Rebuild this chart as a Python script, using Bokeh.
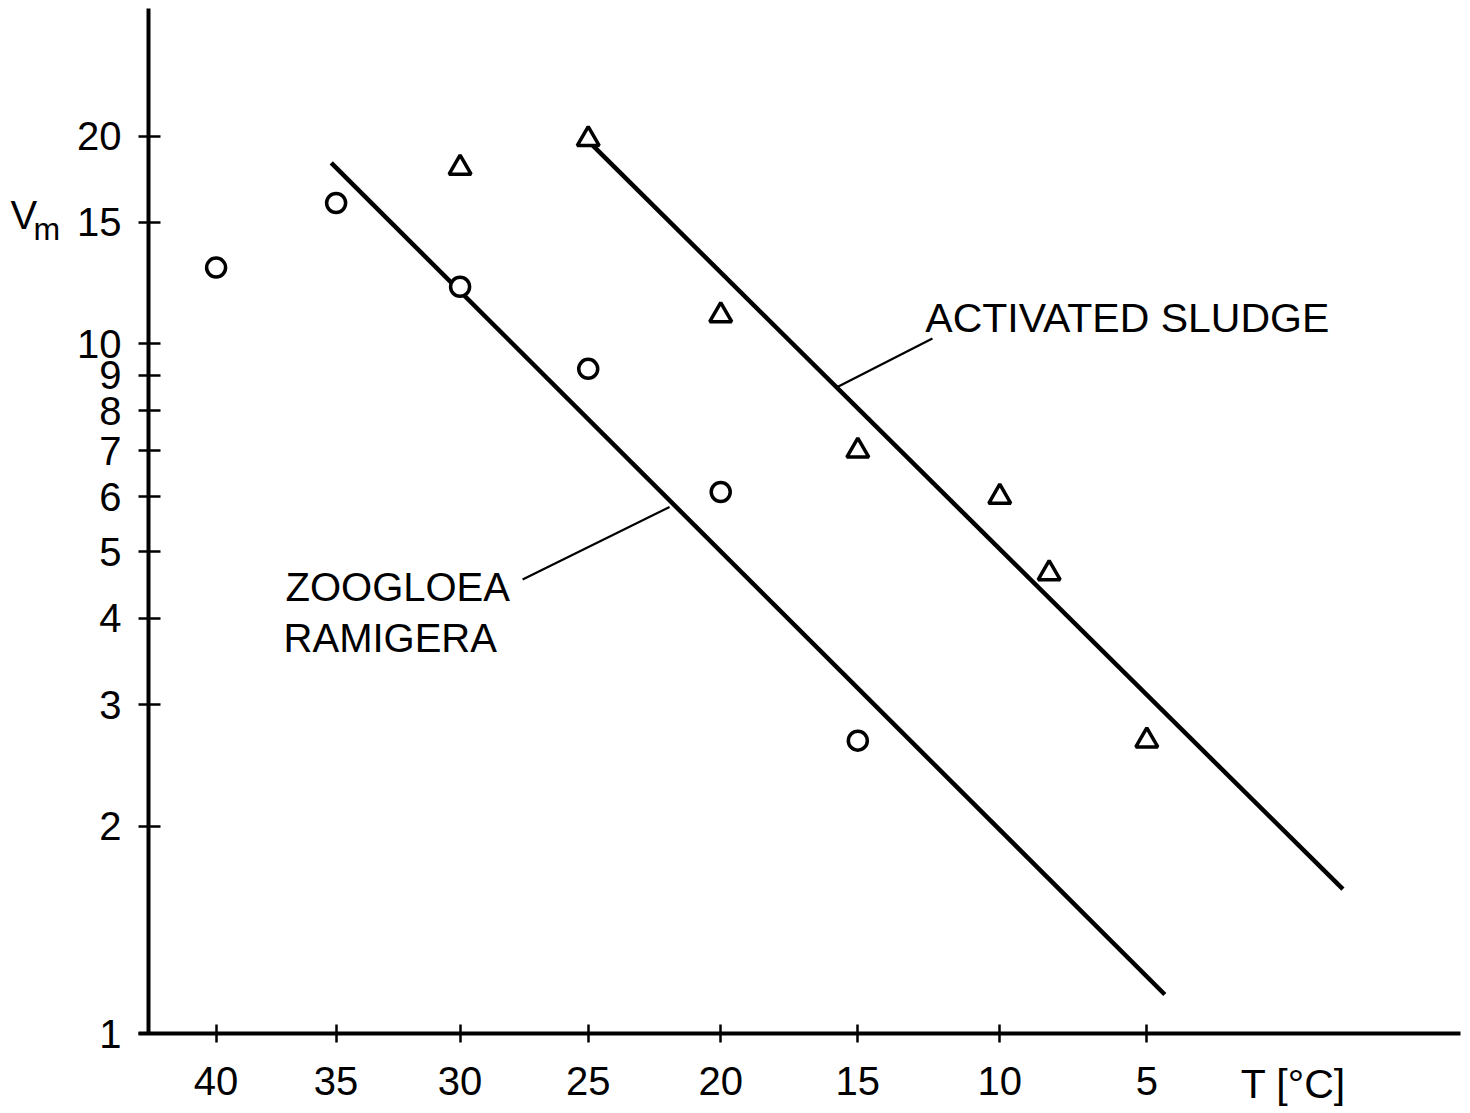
import numpy as np
from bokeh.plotting import figure
from bokeh.models import (Range1d, FixedTicker, CustomJSTickFormatter, Label,
                          ColumnDataSource, LinearAxis, LogAxis)
from bokeh.embed import file_html
from bokeh.resources import INLINE

# ---------------- data ----------------
T_ticks = [40, 35, 30, 25, 20, 15, 10, 5]          # degC, axis is 1/T (Arrhenius)
V_ticks = [1, 2, 3, 4, 5, 6, 7, 8, 9, 10, 15, 20]

zoogloea_T = [40, 35, 30, 25, 20, 15]
zoogloea_V = [12.9, 16.0, 12.1, 9.2, 6.1, 2.66]

sludge_T = [30, 25, 20, 15, 10, 8.3, 5]
sludge_V = [18.0, 19.8, 11.0, 7.0, 6.0, 4.65, 2.66]

zoogloea_fit_T = [35.2, 4.4]
zoogloea_fit_V = [18.3, 1.14]
sludge_fit_T = [25.1, -1.4]
sludge_fit_V = [19.85, 1.62]


def inv_T(t):
    return 1000.0 / (np.asarray(t, dtype=float) + 273.15)


# visible window (frame covers whole canvas; axes are placed inside it)
U_LEFT, U_RIGHT = 3.10027, 3.73278
V_BOTTOM, V_TOP = 0.774, 31.46
AXIS_T = 42.89            # temperature at which the V axis stands
X_AXIS_BOUNDS = (3.15986, 3.73062)
Y_AXIS_BOUNDS = (1.0, 30.6)

FONT = "Liberation Sans"

p = figure(
    width=1465, height=1110,
    x_range=Range1d(U_LEFT, U_RIGHT),
    y_range=Range1d(V_BOTTOM, V_TOP),
    y_axis_type="log",
    x_axis_location=None, y_axis_location=None,
    output_backend="svg", toolbar_location=None,
    min_border_left=0, min_border_right=0, min_border_top=0, min_border_bottom=0,
)
p.outline_line_color = None
p.xgrid.visible = False
p.ygrid.visible = False
p.background_fill_color = "white"
p.border_fill_color = "white"

# ---- axes (library axes, fixed inside the frame) ----
xa = LinearAxis(fixed_location=1.0, bounds=X_AXIS_BOUNDS)
xa.ticker = FixedTicker(ticks=[float(v) for v in inv_T(T_ticks)], minor_ticks=[])
xa.formatter = CustomJSTickFormatter(code="return String(Math.round(1000/tick - 273.15));")
ya = LogAxis(fixed_location=float(inv_T(AXIS_T)), bounds=Y_AXIS_BOUNDS)
ya.ticker = FixedTicker(ticks=V_ticks, minor_ticks=[])
ya.formatter = CustomJSTickFormatter(code="return String(Math.round(tick));")

for ax in (xa, ya):
    ax.axis_line_width = 4
    ax.axis_line_color = "black"
    ax.major_tick_line_width = 2.5
    ax.major_tick_line_color = "black"
    ax.minor_tick_line_color = None
    ax.major_label_text_font = FONT
    ax.major_label_text_font_size = "40px"
    ax.major_label_text_color = "black"
xa.major_tick_in = 9
xa.major_tick_out = 9
xa.major_label_standoff = 24
ya.major_tick_in = 12
ya.major_tick_out = 10
ya.major_label_standoff = 17
p.add_layout(xa, "below")
p.add_layout(ya, "left")

# ---- fitted lines ----
p.line(inv_T(zoogloea_fit_T), zoogloea_fit_V, line_color="black", line_width=4.5)
p.line(inv_T(sludge_fit_T), sludge_fit_V, line_color="black", line_width=4.5)

# ---- leader lines ----
p.line(inv_T([15.77, 12.35]), [8.647, 10.18], line_color="black", line_width=2.2)
p.line(inv_T([27.54, 21.91]), [4.554, 5.802], line_color="black", line_width=2.2)

# ---- markers ----
zs = ColumnDataSource(dict(x=inv_T(zoogloea_T), y=zoogloea_V))
ss = ColumnDataSource(dict(x=inv_T(sludge_T), y=sludge_V))
p.scatter("x", "y", source=zs, marker="circle", size=19, line_color="black",
          line_width=3.5, fill_color="white")
p.scatter("x", "y", source=ss, marker="triangle", size=22, line_color="black",
          line_width=3.5, fill_color="white")

# ---- text annotations ----
def add_label(text, t, v, size):
    p.add_layout(Label(x=float(inv_T(t)), y=v, text=text, text_font=FONT,
                       text_font_size=size, text_color="black",
                       text_baseline="alphabetic", text_align="left"))

add_label("ACTIVATED SLUDGE", 12.6, 10.92, "41px")
add_label("ZOOGLOEA", 37.09, 4.435, "40px")
add_label("RAMIGERA", 37.17, 3.742, "40px")
add_label("V", 48.95, 15.40, "40px")
add_label("m", 47.93, 14.65, "32px")
add_label("T [°C]", 1.9, 0.8442, "41px")

open("out.html", "w").write(file_html(p, INLINE))
